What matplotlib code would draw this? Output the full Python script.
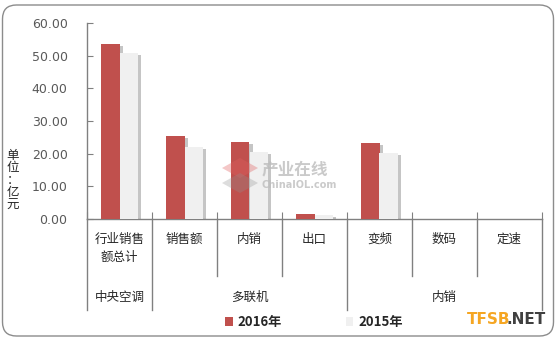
import matplotlib
matplotlib.use("Agg")
import matplotlib.pyplot as plt
import matplotlib.patheffects as pe
from matplotlib.patches import FancyBboxPatch, Rectangle, Polygon
import numpy as np

plt.rcParams['font.family'] = ['Noto Sans CJK SC', 'DejaVu Sans']

categories = ["行业销售\n额总计", "销售额", "内销", "出口", "变频", "数码", "定速"]
groups = ["中央空调", "多联机", "内销"]
group_spans = [(0, 0), (1, 3), (4, 6)]
series_names = ["2016年", "2015年"]
values_2016 = [53.6, 25.4, 23.6, 1.5, 23.4, 0, 0]
values_2015 = [50.8, 22.1, 20.5, 1.2, 20.3, 0, 0]
yticks = [0, 10, 20, 30, 40, 50, 60]

W, H = 559, 341
fig = plt.figure(figsize=(W / 100, H / 100), dpi=100)
fig.patch.set_facecolor("white")

# rounded frame
frame = FancyBboxPatch((2.5 / W, 5 / H), 551 / W, 331 / H,
                       boxstyle="round,pad=0,rounding_size=0.025",
                       transform=fig.transFigure, facecolor="none",
                       edgecolor="#8c8c8c", linewidth=1.0, mutation_aspect=W / H)
fig.patches.append(frame)

# watermark logo (behind axes)
def fpoly(pts, color, alpha):
    p = Polygon([(px_ / W, 1 - py_ / H) for px_, py_ in pts], closed=True,
                transform=fig.transFigure, facecolor=color, edgecolor="none",
                alpha=alpha, zorder=0)
    fig.patches.append(p)

fpoly([(222, 168), (240, 158), (258, 168), (240, 178)], "#e06060", 0.35)
fpoly([(222, 183), (240, 173), (258, 183), (240, 193)], "#909090", 0.3)

ax = fig.add_axes([87 / W, 1 - 219 / H, 455 / W, 196 / H])
ax.patch.set_alpha(0)
x = np.arange(len(categories))
bw = 0.29
shadow = [pe.SimplePatchShadow(offset=(2.2, -1.5), shadow_rgbFace="#7f7f7f", alpha=0.45), pe.Normal()]
b1 = ax.bar(x - bw / 2, values_2016, bw, color="#C0504D", zorder=3)
b2 = ax.bar(x + bw / 2, values_2015, bw, color="#F0F0F0", zorder=3)
for b in list(b1) + list(b2):
    if b.get_height() > 0:
        b.set_path_effects(shadow)

ax.set_xlim(-0.5, len(categories) - 0.5)
ax.set_ylim(0, 60)
ax.set_yticks(yticks)
ax.set_yticklabels([f"{v:.2f}" for v in yticks], fontsize=9, color="#595959",
                   family=['DejaVu Sans'])
ax.tick_params(axis="y", direction="in", length=4, color="#808080", pad=14)
ax.set_xticks(np.arange(len(categories) + 1) - 0.5)
ax.set_xticklabels([])
ax.tick_params(axis="x", direction="in", length=5, color="#808080")
for s in ["top", "right"]:
    ax.spines[s].set_visible(False)
for s in ["left", "bottom"]:
    ax.spines[s].set_color("#808080")
    ax.spines[s].set_linewidth(1.0)

# separators below axis
px = 1 / 196
group_bounds = {-0.5, 0.5, 3.5, 6.5}
for b in np.arange(len(categories) + 1) - 0.5:
    depth = 91 if b in group_bounds else 57
    ax.plot([b, b], [0, -depth * px], transform=ax.get_xaxis_transform(),
            color="#808080", lw=1.0, clip_on=False)

for i, c in enumerate(categories):
    ax.text(i, -(14 * px), c, transform=ax.get_xaxis_transform(), ha="center", va="top",
            fontsize=9, color="#262626", linespacing=1.5)
for g, (a, b) in zip(groups, group_spans):
    ax.text((a + b) / 2, -(78 * px), g, transform=ax.get_xaxis_transform(),
            ha="center", va="center", fontsize=9, color="#262626")

# y label (stacked characters)
fig.text(13 / W, 1 - 180 / H, "单\n位\n：\n亿\n元", ha="center", va="center",
         fontsize=9, color="#262626", linespacing=0.95)

# legend (proxy handles without shadow)
h1 = Rectangle((0, 0), 1, 1, facecolor="#C0504D", edgecolor="none")
h2 = Rectangle((0, 0), 1, 1, facecolor="#F0F0F0", edgecolor="none")
leg = fig.legend(handles=[h1, h2], labels=series_names, loc="center",
                 bbox_to_anchor=(314 / W, 1 - 322 / H), ncol=2, frameon=False,
                 handlelength=0.6, handleheight=0.6, handletextpad=0.4,
                 columnspacing=4.8, prop={"size": 9.5, "weight": "bold"})
for t in leg.get_texts():
    t.set_color("#262626")

# watermarks
fig.text(262 / W, 1 - 169 / H, "产业在线", fontsize=12, color="#bdbdbd", alpha=0.8,
         ha="left", va="center", weight="bold")
fig.text(262 / W, 1 - 185 / H, "ChinaIOL.com", fontsize=7, color="#bdbdbd", alpha=0.8,
         ha="left", va="center", weight="bold", family=['DejaVu Sans'])
fig.text(467 / W, 1 - 320 / H, "TFSB", fontsize=11, color="#F5A623", weight="bold",
         ha="left", va="center", family=['DejaVu Sans'])
fig.text(507 / W, 1 - 320 / H, ".NET", fontsize=11, color="#404040", weight="bold",
         ha="left", va="center", family=['DejaVu Sans'])

fig.savefig("out.png", dpi=100)
